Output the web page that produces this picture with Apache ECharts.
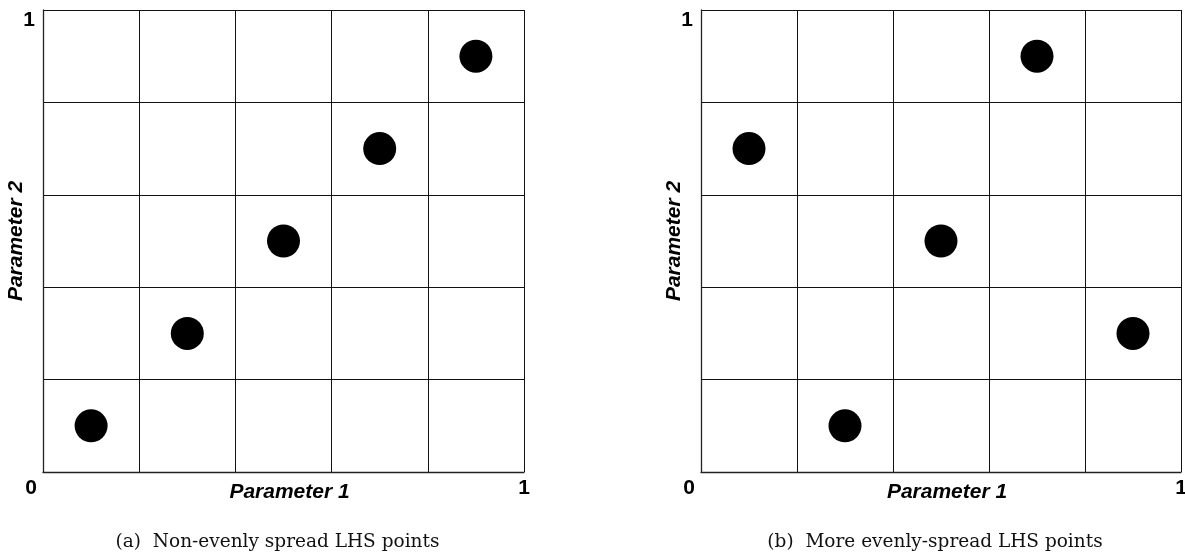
<!DOCTYPE html>
<html>
<head>
<meta charset="utf-8">
<script src="https://cdn.jsdelivr.net/npm/echarts@6/dist/echarts.min.js"></script>
<style>
  html, body { margin: 0; padding: 0; background: #fff; }
  #chart { width: 1185px; height: 559px; }
</style>
</head>
<body>
<div id="chart"></div>
<script>
// Latin hypercube samples in the unit square (Parameter 1, Parameter 2)
const pointsA = [[0.1, 0.1], [0.3, 0.3], [0.5, 0.5], [0.7, 0.7], [0.9, 0.9]];
const pointsB = [[0.1, 0.7], [0.3, 0.1], [0.5, 0.5], [0.7, 0.9], [0.9, 0.3]];
const captions = ['(a)  Non-evenly spread LHS points', '(b)  More evenly-spread LHS points'];
const xName = 'Parameter 1';
const yName = 'Parameter 2';
const tickLabels = { 0: '0', 1: '1' };

const chart = echarts.init(document.getElementById('chart'), null, { renderer: 'canvas' });

const labelFont = { fontFamily: 'Liberation Sans, Arial, sans-serif', fontWeight: 'bold', fontSize: 21, color: '#000' };
const nameFont = { fontFamily: 'Liberation Sans, Arial, sans-serif', fontWeight: 'bold', fontStyle: 'italic', fontSize: 21, color: '#000' };

const grids = [
  { left: 43, top: 10, width: 481, height: 462, outerBoundsMode: 'none', containLabel: false },
  { left: 701, top: 10, width: 480, height: 462, outerBoundsMode: 'none', containLabel: false }
];

function xAxis(i) {
  return {
    gridIndex: i, type: 'value', min: 0, max: 1, interval: 0.2,
    name: xName, nameLocation: 'middle', nameGap: 10, nameMoveOverlap: false,
    nameTextStyle: Object.assign({ padding: [0, 0, 0, 12] }, nameFont),
    axisLine: { show: true, lineStyle: { color: '#222', width: 1.3 } },
    axisTick: { show: false },
    splitLine: { show: true, lineStyle: { color: '#111', width: 1 } },
    axisLabel: Object.assign({
      margin: 6,
      alignMinLabel: 'right',
      hideOverlap: false,
      formatter: v => (v in tickLabels ? tickLabels[v] : '')
    }, labelFont, {
      rich: { z: Object.assign({ padding: [0, 6, 0, 0] }, labelFont) }
    })
  };
}
function yAxis(i) {
  return {
    gridIndex: i, type: 'value', min: 0, max: 1, interval: 0.2,
    name: yName, nameLocation: 'middle', nameGap: 16, nameMoveOverlap: false,
    nameTextStyle: nameFont,
    axisLine: { show: true, lineStyle: { color: '#222', width: 1.3 } },
    axisTick: { show: false },
    splitLine: { show: true, lineStyle: { color: '#111', width: 1 } },
    axisLabel: Object.assign({
      margin: 8,
      verticalAlignMaxLabel: 'top',
      formatter: v => (v === 1 ? tickLabels[1] : '')
    }, labelFont)
  };
}

const option = {
  backgroundColor: '#fff',
  animation: false,
  grid: grids,
  xAxis: [xAxis(0), xAxis(1)],
  yAxis: [yAxis(0), yAxis(1)],
  series: [pointsA, pointsB].map((pts, i) => ({
    type: 'scatter', xAxisIndex: i, yAxisIndex: i,
    data: pts, symbol: 'circle', symbolSize: 33,
    itemStyle: { color: '#000', opacity: 1 }
  })),
  graphic: captions.map((t, i) => ({
    type: 'text',
    x: grids[i].left + grids[i].width / 2 - 6,
    y: 542,
    style: {
      text: t, align: 'center', verticalAlign: 'middle',
      font: '18.5px "DejaVu Serif", serif', fill: '#111'
    }
  }))
};
// pad the "0" label away from the corner
option.xAxis.forEach(ax => {
  ax.axisLabel.formatter = v => (v === 0 ? '{z|' + tickLabels[0] + '}' : (v === 1 ? tickLabels[1] : ''));
});
chart.setOption(option);
</script>
</body>
</html>
